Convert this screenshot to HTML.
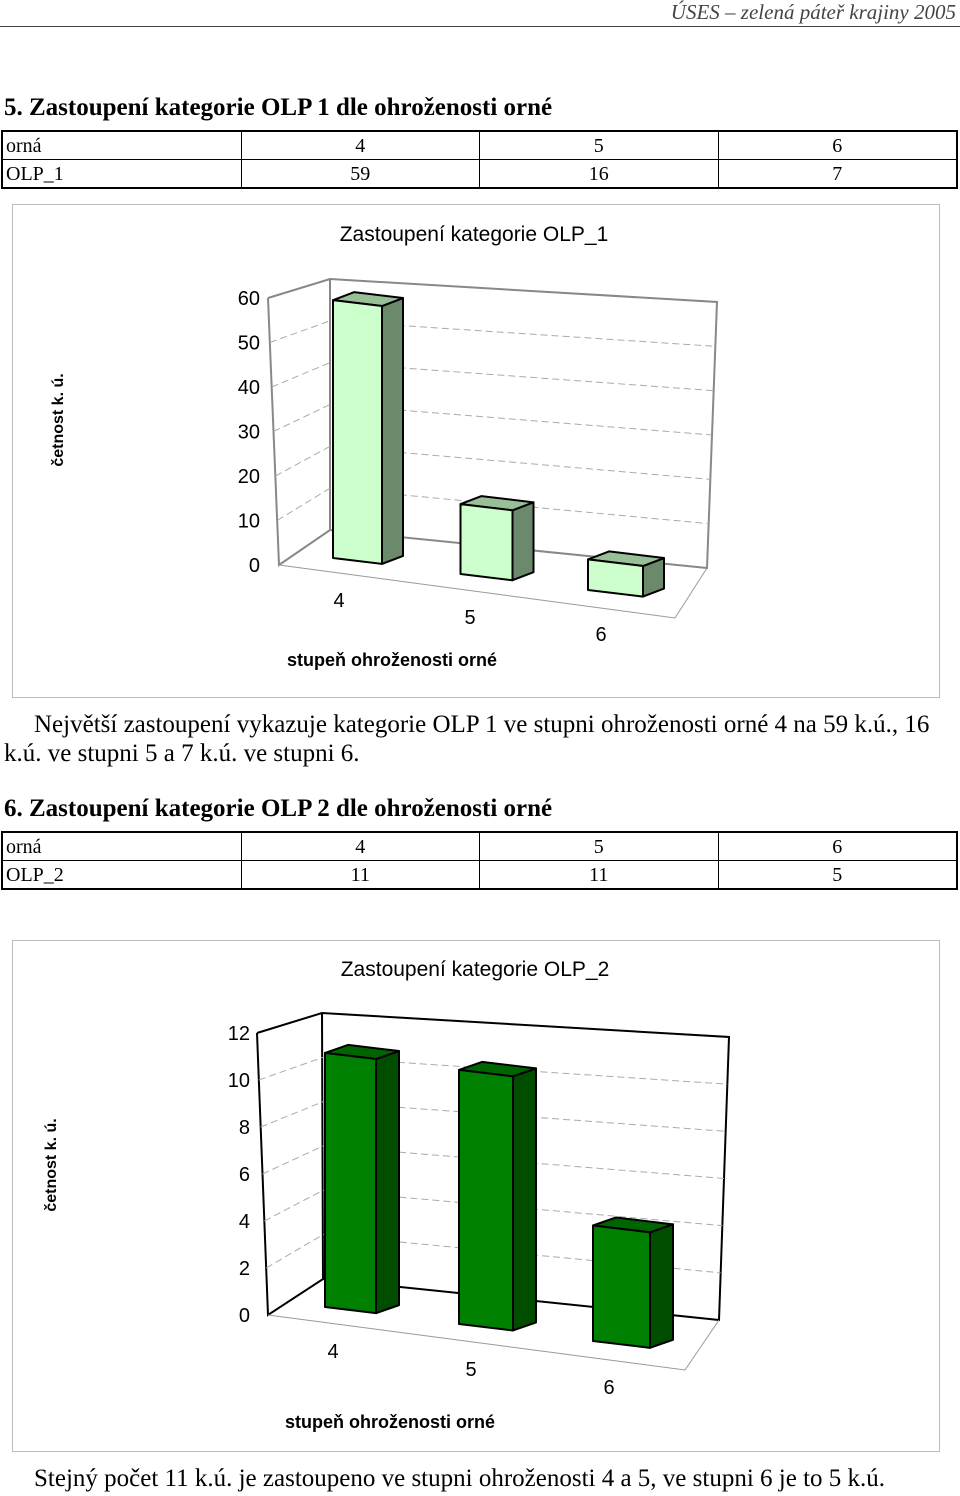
<!DOCTYPE html>
<html><head><meta charset="utf-8">
<style>
body{margin:0;width:960px;height:1496px;position:relative;background:#fff;font-family:"Liberation Serif",serif;overflow:hidden}
.a{position:absolute;white-space:nowrap}
table{position:absolute;left:1px;border-collapse:collapse;font-size:20px;width:957px;border:2px solid #000}
td{border:1px solid #000;height:27px;padding:0 3px;text-align:center;width:232px;line-height:24px}
td:first-child{text-align:left}
.frame{position:absolute;border:1px solid #bbb;left:12px;width:926px}
</style></head><body>
<div class="a" style="right:4px;top:0px;font-size:21px;font-style:italic;color:#444">ÚSES – zelená páteř krajiny 2005</div>
<div class="a" style="left:0;top:26px;width:960px;border-top:1px solid #444"></div>

<div class="a" style="left:4px;top:94px;font-size:25px;font-weight:bold">5. Zastoupení kategorie OLP 1 dle ohroženosti orné</div>
<table style="top:130px">
<tr><td>orná</td><td>4</td><td>5</td><td>6</td></tr>
<tr><td>OLP_1</td><td>59</td><td>16</td><td>7</td></tr></table>

<div class="frame" style="top:204px;height:492px"></div>
<svg id="c1" style="position:absolute;left:0;top:0" width="960" height="1496"></svg>

<div class="a" style="left:34px;top:711px;font-size:25px">Největší zastoupení vykazuje kategorie OLP 1 ve stupni ohroženosti orné 4 na 59 k.ú., 16</div>
<div class="a" style="left:4px;top:740px;font-size:25px">k.ú. ve stupni 5 a 7 k.ú. ve stupni 6.</div>

<div class="a" style="left:4px;top:795px;font-size:25px;font-weight:bold">6. Zastoupení kategorie OLP 2 dle ohroženosti orné</div>
<table style="top:831px">
<tr><td>orná</td><td>4</td><td>5</td><td>6</td></tr>
<tr><td>OLP_2</td><td>11</td><td>11</td><td>5</td></tr></table>

<div class="frame" style="top:940px;height:510px"></div>

<div class="a" style="left:34px;top:1465px;font-size:25px">Stejný počet 11 k.ú. je zastoupeno ve stupni ohroženosti 4 a 5, ve stupni 6 je to 5 k.ú.</div>

<script>
const cats1=["4","5","6"];
const vals1=[59,16,7];
const ticks1=[0,10,20,30,40,50,60];
const cats2=["4","5","6"];
const vals2=[11,11,5];
const ticks2=[0,2,4,6,8,10,12];

const NS="http://www.w3.org/2000/svg";
const svg=document.getElementById('c1');
function mk(tag,at,txt){const e=document.createElementNS(NS,tag);for(const k in at)e.setAttribute(k,at[k]);if(txt!==undefined)e.textContent=txt;svg.appendChild(e);return e;}
function draw(c,cats,vals,ticks){
  const max=ticks[ticks.length-1];
  const L=(a,b,t)=>a+(b-a)*t;
  const fy=v=>L(c.fb[1],c.ft[1],v/max), fx=v=>L(c.fb[0],c.ft[0],v/max);
  const bly=v=>L(c.blb[1],c.blt[1],v/max);
  const bry=v=>L(c.brb[1],c.brt[1],v/max), brx=v=>L(c.brb[0],c.brt[0],v/max);
  let w=mk('polyline',{points:`${c.ft} ${c.blt} ${c.brt} ${c.brb} ${c.blb} ${c.fb} ${c.ft}`,fill:'none',stroke:c.wall,'stroke-width':2});
  
  
  mk('line',{x1:c.blt[0],y1:c.blt[1],x2:c.blb[0],y2:c.blb[1],stroke:c.wall,'stroke-width':2});
  let fl=mk('polyline',{points:`${c.fb} ${c.ffr} ${c.brb}`,fill:'none',stroke:'#999','stroke-width':1});
  
  
  ticks.forEach(v=>{
    if(v>0&&v<max){
      let g=mk('polyline',{points:`${fx(v)},${fy(v)} ${c.blb[0]},${bly(v)} ${brx(v)},${bry(v)}`,fill:'none',stroke:'#aaa','stroke-dasharray':'7,4','stroke-width':1});
      
      
    }
    let t=mk('text',{x:c.tx,y:fy(v)+7,'text-anchor':'end','font-size':20,'font-family':'Liberation Sans, sans-serif'},String(v));
    
    
  });
  vals.forEach((v,i)=>{
    const lx=c.lx0+c.step*i, by=c.by0+c.dby*i, wd=c.w0+3*i, h=v*c.k, s=wd*0.12, dx=c.dx, dy=c.dy;
    const fl=[lx,by-h],fr=[lx+wd,by+s-h],br=[lx+wd,by+s];
    let side=mk('polygon',{points:`${fr} ${fr[0]+dx},${fr[1]+dy} ${br[0]+dx},${br[1]+dy} ${br}`,fill:c.side,stroke:'#000','stroke-width':2,'stroke-linejoin':'round'});
    
    
    let top=mk('polygon',{points:`${fl} ${fr} ${fr[0]+dx},${fr[1]+dy} ${fl[0]+dx},${fl[1]+dy}`,fill:c.top,stroke:'#000','stroke-width':2,'stroke-linejoin':'round'});
    
    
    let f=mk('polygon',{points:`${lx},${by} ${br} ${fr} ${fl}`,fill:c.front,stroke:'#000','stroke-width':2,'stroke-linejoin':'round'});
    
    
    let xl=mk('text',{x:c.xl[0]+c.xs[0]*i,y:c.xl[1]+c.xs[1]*i,'text-anchor':'middle','font-size':20,'font-family':'Liberation Sans, sans-serif'},cats[i]);
    
    
  });
  let tt=mk('text',{x:c.title[0],y:c.title[1],'text-anchor':'middle','font-size':21,'font-family':'Liberation Sans, sans-serif'},c.titleText);
  
  
  let xt=mk('text',{x:c.xt[0],y:c.xt[1],'text-anchor':'middle','font-size':18,'font-weight':'bold','font-family':'Liberation Sans, sans-serif'},'stupeň ohroženosti orné');
  
  
  let yt=mk('text',{x:0,y:0,transform:`translate(${c.yt[0]},${c.yt[1]}) rotate(-90)`,'text-anchor':'middle','font-size':16,'font-weight':'bold','font-family':'Liberation Sans, sans-serif'},'četnost k. ú.');
  
  
}
draw({id:'chart1',ft:[268,298],fb:[279,565],blt:[330,279],blb:[330,530],brt:[717,302],brb:[707,568],ffr:[675,618],
  wall:'#888',tx:260,lx0:333,step:127.5,by0:558,dby:16,w0:49,k:4.37,dx:21,dy:-8,
  front:'#ccffcc',top:'#99bf99',side:'#6b8a6b',xl:[339,607],xs:[131,17],title:[474,241],titleText:'Zastoupení kategorie OLP_1',
  xt:[392,666],yt:[63,420]},cats1,vals1,ticks1);
draw({id:'chart2',ft:[257,1033],fb:[268,1315],blt:[322,1013],blb:[323,1279],brt:[729,1037],brb:[719,1320],ffr:[685,1370],
  wall:'#000',tx:250,lx0:325,step:134,by0:1307,dby:17,w0:51,k:23.1,dx:23,dy:-8,
  front:'#008000',top:'#006400',side:'#004d00',xl:[333,1358],xs:[138,18],title:[475,976],titleText:'Zastoupení kategorie OLP_2',
  xt:[390,1428],yt:[56,1165]},cats2,vals2,ticks2);
</script>
</body></html>
